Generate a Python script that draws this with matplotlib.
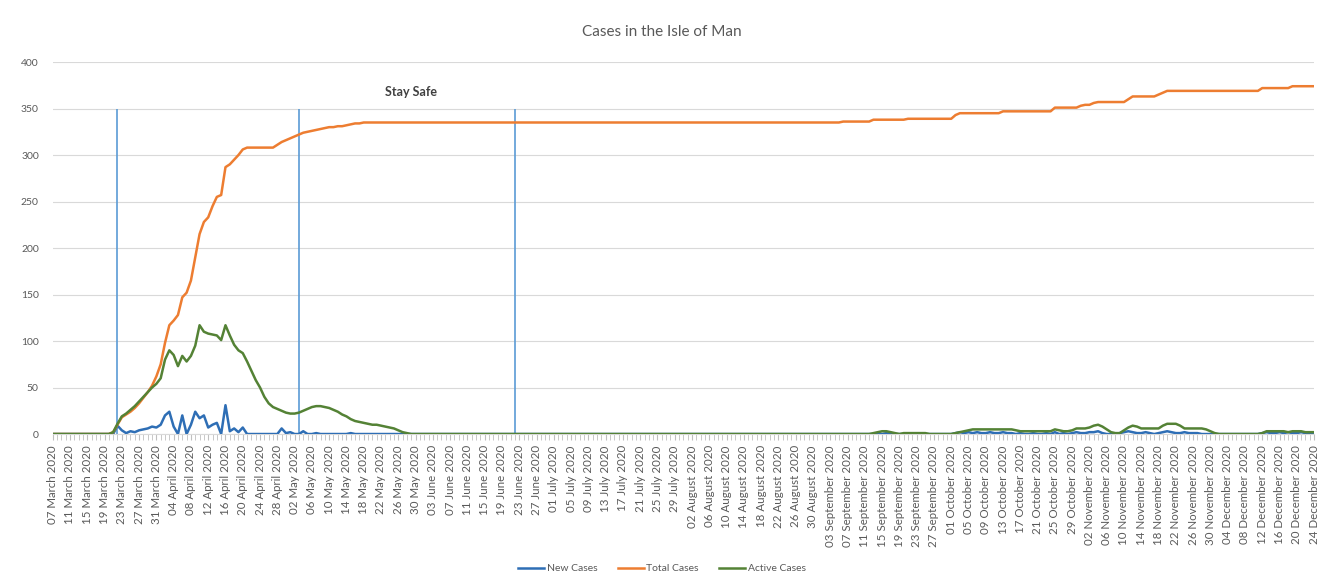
import pandas as pd
import matplotlib
matplotlib.use('Agg')
import matplotlib.pyplot as plt
import matplotlib.dates as mdates

plt.rcParams['font.family'] = ['Lato', 'DejaVu Sans']

# Daily values, 07 March 2020 - 24 December 2020
dates = pd.date_range('2020-03-07', '2020-12-24', freq='D')

new_mar = [0] * 15 + [9, 4, 1, 3, 2, 4, 5, 6, 8, 7]
new_apr = [10, 20, 24, 8, 0, 20, 0, 10, 24, 17, 20, 7, 10, 12, 0, 31, 3, 6, 2, 7,
           0, 0, 0, 0, 0, 0, 0, 0, 6, 1]
new_may = [2, 0, 0, 3, 0, 0, 1] + [0] * 7 + [1] + [0] * 16
new_jun = [0] * 30
new_jul = [0] * 31
new_aug = [0] * 31
new_sep = [0] * 13 + [1, 0, 1] + [0] * 14
new_oct = [0, 1, 2, 1, 2, 1, 2, 1, 1, 2, 1, 1, 2, 1, 1, 0, 1, 0, 0, 1, 0, 0, 1, 0,
           2, 0, 1, 0, 1, 2, 1]
new_nov = [1, 2, 2, 3, 1, 0, 0, 0, 1, 2, 3, 2, 1, 1, 2, 1, 0, 1, 2, 3, 2, 1, 1, 2,
           1, 1, 1, 0, 0, 0]
new_dec = [0] * 11 + [1, 2, 1, 1, 2, 1, 2, 1, 1, 2, 1, 1, 1]

total_mar = [0] * 14 + [2, 10, 18, 21, 24, 28, 33, 39, 45, 52, 62]
total_apr = [75, 98, 117, 122, 128, 147, 152, 165, 190, 215, 228, 233, 245, 255, 257,
             287, 290, 295, 300, 306] + [308] * 7 + [311, 314, 316]
total_may = [318, 320, 322, 324, 325, 326, 327, 328, 329, 330, 330, 331, 331, 332,
             333, 334, 334] + [335] * 14
total_jun = [335] * 30
total_jul = [335] * 31
total_aug = [335] * 31
total_sep = [335] * 5 + [336] * 7 + [338] * 8 + [339] * 10
total_oct = [339, 343] + [345] * 10 + [347] * 12 + [351] * 6 + [353]
total_nov = [354, 354, 356] + [357] * 7 + [360] + [363] * 6 + [365, 367] + [369] * 11
total_dec = [369] * 11 + [372] * 7 + [374] * 6

active_mar = [0] * 14 + [2, 11, 19, 22, 26, 30, 35, 40, 45, 50, 54]
active_apr = [60, 80, 90, 85, 73, 84, 78, 84, 95, 117, 110, 108, 107, 106, 101, 117,
              106, 96, 90, 87, 78, 68, 58, 50, 40, 33, 29, 27, 25, 23]
active_may = [22, 22, 23, 25, 27, 29, 30, 30, 29, 28, 26, 24, 21, 19, 16, 14, 13, 12,
              11, 10, 10, 9, 8, 7, 6, 4, 2, 1, 0, 0, 0]
active_jun = [0] * 30
active_jul = [0] * 31
active_aug = [0] * 31
active_sep = [0] * 12 + [1, 2, 3, 3, 2, 1, 0] + [1] * 6 + [0] * 5
active_oct = [0, 1, 2, 3, 4] + [5] * 10 + [4] + [3] * 8 + [5, 4, 3, 3, 4, 6, 6]
active_nov = [6, 7, 9, 10, 8, 5, 2, 1, 1, 4, 7, 9, 8] + [6] * 5 + [9, 11, 11, 11, 9] \
    + [6] * 5 + [5, 3]
active_dec = [1] + [0] * 10 + [1] + [3] * 5 + [2] + [3] * 3 + [2] * 3

new_cases = new_mar + new_apr + new_may + new_jun + new_jul + new_aug + new_sep + new_oct + new_nov + new_dec
total_cases = total_mar + total_apr + total_may + total_jun + total_jul + total_aug + total_sep + total_oct + total_nov + total_dec
active_cases = active_mar + active_apr + active_may + active_jun + active_jul + active_aug + active_sep + active_oct + active_nov + active_dec

marker_dates = pd.to_datetime(['2020-03-22', '2020-05-03', '2020-06-22'])
note_date = pd.Timestamp('2020-05-29')

fig = plt.figure(figsize=(13.24, 5.87), dpi=100)
ax = fig.add_axes([0.0398, 0.2606, 0.9527, 0.6337])

ax.vlines(marker_dates, 0, 350, color='#5B9BD5', lw=1.2, zorder=1)
ax.plot(dates, new_cases, color='#2E6EB5', lw=1.8, label='New Cases', zorder=3)
ax.plot(dates, total_cases, color='#ED7D31', lw=1.8, label='Total Cases', zorder=3)
ax.plot(dates, active_cases, color='#548235', lw=1.8, label='Active Cases', zorder=4)

ax.text(note_date, 368, 'Stay Safe', ha='center', va='center', fontsize=9,
        fontweight='bold', color='#404040')

ax.set_xlim(dates[0], dates[-1])
ax.set_ylim(0, 400)
ax.set_yticks(range(0, 401, 50))
ax.grid(axis='y', color='#D9D9D9', lw=0.8)
ax.set_axisbelow(True)

ax.set_xticks(dates[::4])
ax.set_xticks(dates, minor=True)
ax.xaxis.set_major_formatter(mdates.DateFormatter('%d %B %Y'))
ax.tick_params(axis='x', which='both', length=4, color='#BFBFBF', labelsize=8.3,
               labelcolor='#595959', rotation=90, pad=4)
ax.tick_params(axis='y', length=0, labelsize=7.5, labelcolor='#595959', pad=10)
for s in ['top', 'right', 'left']:
    ax.spines[s].set_visible(False)
ax.spines['bottom'].set_color('#D9D9D9')

fig.text(0.5, 0.945, 'Cases in the Isle of Man', ha='center', va='center',
         fontsize=11, color='#595959')
fig.legend(loc='center', bbox_to_anchor=(0.5, 0.031), ncol=3, frameon=False,
           fontsize=7.5, labelcolor='#595959', handlelength=2.5, columnspacing=2,
           handletextpad=0.2)

fig.savefig('out.png', dpi=100)
